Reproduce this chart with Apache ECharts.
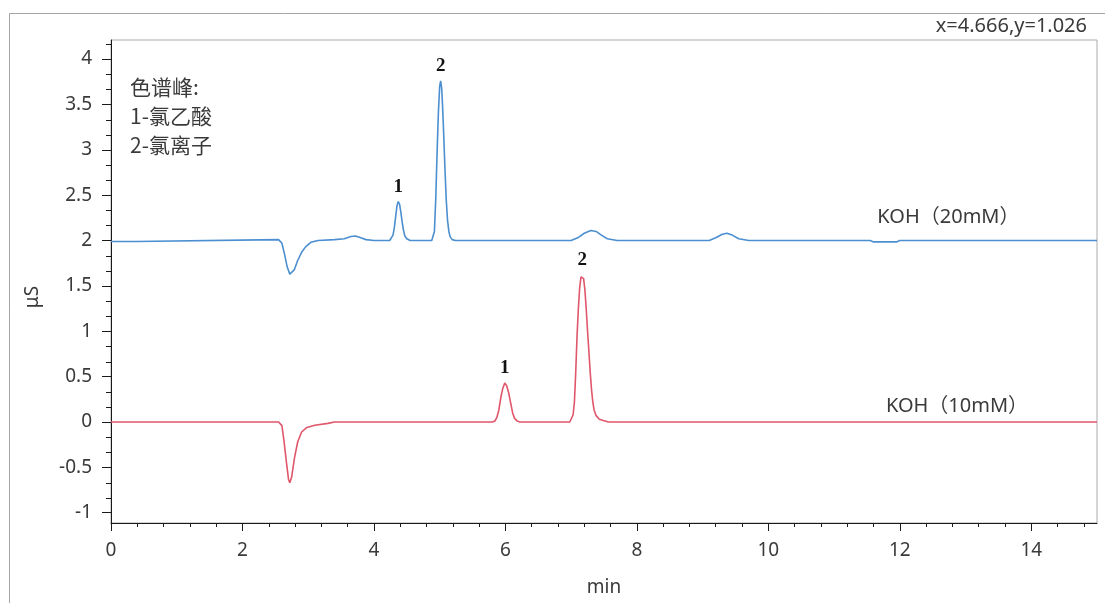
<!DOCTYPE html>
<html>
<head>
<meta charset="utf-8">
<script src="https://cdn.jsdelivr.net/npm/echarts@6/dist/echarts.min.js"></script>
<style>
  html, body { margin: 0; padding: 0; background: #ffffff; }
  #chart { width: 1105px; height: 603px; }
</style>
</head>
<body>
<div id="chart"></div>
<script>
// Axis tick labels
const xTickLabels = [0, 2, 4, 6, 8, 10, 12, 14];
const yTickLabels = [-1, -0.5, 0, 0.5, 1, 1.5, 2, 2.5, 3, 3.5, 4];

// Chromatogram, KOH 20 mM eluent (time in min, conductivity in μS)
const time20mM = [0, 0.38, 0.40, 2.55, 2.60, 2.64, 2.68, 2.72, 2.75, 2.79, 2.84, 2.90,
  2.96, 3.04, 3.15, 3.40, 3.55, 3.65, 3.72, 3.80, 3.88, 4.00,
  4.24, 4.27, 4.29, 4.31, 4.33, 4.35, 4.37, 4.39, 4.41, 4.43, 4.45, 4.47, 4.50, 4.55,
  4.88, 4.90, 4.92, 4.94, 4.96, 4.98, 5.00, 5.015, 5.03, 5.04, 5.06, 5.08, 5.10, 5.12, 5.14, 5.16, 5.19, 5.24,
  7.00, 7.10, 7.20, 7.30, 7.38, 7.46, 7.55, 7.70,
  9.10, 9.20, 9.30, 9.37, 9.45, 9.55, 9.70,
  11.55, 11.60, 11.95, 12.00, 15.00];
const signal20mM = [1.99, 1.99, 2.01, 2.01, 1.97, 1.85, 1.71, 1.63, 1.625, 1.68, 1.78, 1.87,
  1.93, 1.98, 2.00, 2.01, 2.02, 2.045, 2.05, 2.03, 2.01, 2.00,
  2.00, 2.02, 2.06, 2.14, 2.26, 2.38, 2.43, 2.40, 2.31, 2.20, 2.11, 2.05, 2.02, 2.00,
  2.00, 2.02, 2.10, 2.45, 2.95, 3.40, 3.70, 3.76, 3.68, 3.55, 3.20, 2.80, 2.45, 2.22, 2.10, 2.04, 2.01, 2.00,
  2.00, 2.03, 2.08, 2.11, 2.10, 2.06, 2.02, 2.00,
  2.00, 2.03, 2.07, 2.08, 2.06, 2.02, 2.00,
  2.00, 1.985, 1.985, 2.00, 2.00];

// Chromatogram, KOH 10 mM eluent
const time10mM = [0, 2.55, 2.60, 2.63, 2.67, 2.70, 2.72, 2.75, 2.79, 2.84, 2.90,
  2.98, 3.10, 3.30, 3.40,
  5.80, 5.84, 5.87, 5.90, 5.93, 5.96, 5.99, 6.02, 6.05, 6.08, 6.11, 6.14, 6.18, 6.22,
  6.98, 7.01, 7.03, 7.05, 7.07, 7.09, 7.11, 7.13, 7.15, 7.17, 7.19, 7.21, 7.23, 7.25,
  7.27, 7.29, 7.31, 7.33, 7.35, 7.38, 7.43, 7.50, 7.57,
  15.00];
const signal10mM = [0, 0, -0.04, -0.20, -0.45, -0.63, -0.67, -0.60, -0.40, -0.22, -0.11,
  -0.06, -0.035, -0.015, 0,
  0, 0.01, 0.05, 0.13, 0.27, 0.37, 0.43, 0.40, 0.32, 0.21, 0.10, 0.04, 0.01, 0,
  0, 0.02, 0.08, 0.22, 0.55, 0.95, 1.25, 1.48, 1.60, 1.62, 1.58, 1.45, 1.24, 1.00,
  0.78, 0.55, 0.36, 0.22, 0.13, 0.07, 0.03, 0.015, 0,
  0];

// Peak identification (1 = chloroacetic acid, 2 = chloride)
const peakNames = ['1', '2'];
const peakTimes20mM = [4.37, 5.015];
const peakTimes10mM = [5.99, 7.17];

const seriesNames = ['KOH（20mM）', 'KOH（10mM）'];
const legendLines = ['色谱峰:', '1-氯乙酸', '2-氯离子'];
const cursorReadout = 'x=4.666,y=1.026';

// Minor tick positions: x every 0.4 min, y every 1/6 μS
const xMinorTicks = [];
for (let k = 0; k * 0.4 <= 15; k++) if (k % 5 !== 0) xMinorTicks.push(+(k * 0.4).toFixed(3));
const yMinorTicks = [];
for (let k = 0; -1 + k / 6 <= 4.2; k++) if (k % 3 !== 0) yMinorTicks.push(+(-1 + k / 6).toFixed(4));

const zip = (xs, ys) => xs.map((x, i) => [x, ys[i]]);

// Locate the apex point of each named peak in a trace
function peakMarks(xs, ys, times) {
  return times.map((t, p) => {
    let best = -1;
    xs.forEach((x, i) => {
      if (Math.abs(x - t) <= 0.1 && (best < 0 || ys[i] > ys[best])) best = i;
    });
    return { name: peakNames[p], coord: [xs[best], ys[best]] };
  });
}

const FONT = "'Noto Sans', 'Noto Sans CJK SC', sans-serif";
const AXIS_COLOR = '#1a1a1a';
const TEXT_COLOR = '#3a3a3a';
const X_MIN = 0, X_MAX = 15, Y_MIN = -1.113, Y_MAX = 4.21;

const peakLabel = {
  show: true, position: 'top', distance: 5, formatter: '{b}',
  fontFamily: "'Liberation Serif', 'DejaVu Serif', serif",
  fontWeight: 'bold', fontSize: 19, color: '#111111'
};
const traceLabel = {
  show: true, position: 'inside', formatter: '{b}',
  fontFamily: FONT, fontSize: 20, fontWeight: 'normal', color: TEXT_COLOR
};

const chart = echarts.init(document.getElementById('chart'), null, { renderer: 'canvas' });

chart.setOption({
  animation: false,
  backgroundColor: '#ffffff',
  grid: {
    left: 111, right: 8, top: 40, bottom: 80,
    show: true, borderColor: '#ababab', borderWidth: 1, backgroundColor: 'transparent'
  },
  xAxis: [
    {
      type: 'value', min: X_MIN, max: X_MAX, position: 'bottom',
      name: 'min', nameLocation: 'middle', nameGap: 55,
      nameTextStyle: { fontFamily: FONT, fontSize: 19, color: TEXT_COLOR },
      axisLine: { show: true, onZero: false, lineStyle: { color: AXIS_COLOR, width: 1 } },
      axisTick: { show: true, customValues: xTickLabels, length: 8, lineStyle: { color: AXIS_COLOR } },
      axisLabel: { customValues: xTickLabels, fontFamily: FONT, fontSize: 19, color: TEXT_COLOR, margin: 18 },
      splitLine: { show: false }
    },
    {
      type: 'value', min: X_MIN, max: X_MAX, position: 'bottom',
      axisLine: { show: false, onZero: false },
      axisTick: { show: true, customValues: xMinorTicks, length: 4, lineStyle: { color: AXIS_COLOR } },
      axisLabel: { show: false },
      splitLine: { show: false }
    }
  ],
  yAxis: [
    {
      type: 'value', min: Y_MIN, max: Y_MAX, position: 'left',
      axisLine: { show: true, onZero: false, lineStyle: { color: AXIS_COLOR, width: 1 } },
      axisTick: { show: true, customValues: yTickLabels, length: 9, lineStyle: { color: AXIS_COLOR } },
      axisLabel: { customValues: yTickLabels, fontFamily: FONT, fontSize: 19, color: TEXT_COLOR, margin: 19 },
      splitLine: { show: false }
    }
  ],
  series: [
    {
      name: seriesNames[0], type: 'line', xAxisIndex: 0, yAxisIndex: 0,
      data: zip(time20mM, signal20mM),
      showSymbol: false, smooth: false,
      lineStyle: { color: '#4b8fd0', width: 1.6 },
      itemStyle: { color: '#4b8fd0' },
      markPoint: {
        symbol: 'circle', symbolSize: 0, silent: true,
        label: peakLabel,
        data: peakMarks(time20mM, signal20mM, peakTimes20mM).concat([{
          name: seriesNames[0], coord: [12.74, 2.257], label: traceLabel
        }])
      }
    },
    {
      name: seriesNames[1], type: 'line', xAxisIndex: 0, yAxisIndex: 0,
      data: zip(time10mM, signal10mM),
      showSymbol: false, smooth: false,
      lineStyle: { color: '#e0566a', width: 1.6 },
      itemStyle: { color: '#e0566a' },
      markPoint: {
        symbol: 'circle', symbolSize: 0, silent: true,
        label: peakLabel,
        data: peakMarks(time10mM, signal10mM, peakTimes10mM).concat([{
          name: seriesNames[1], coord: [12.87, 0.17], label: traceLabel
        }])
      }
    },
    {
      // Short minor ticks on the left edge of the y axis
      type: 'custom', xAxisIndex: 0, yAxisIndex: 0, silent: true, clip: false, z: 10,
      data: yMinorTicks.map(v => [X_MIN, v]),
      renderItem: function (params, api) {
        const p = api.coord([api.value(0), api.value(1)]);
        const y = Math.round(p[1]) + 0.5;
        return {
          type: 'line',
          shape: { x1: p[0] - 5, y1: y, x2: p[0], y2: y },
          style: { stroke: AXIS_COLOR, lineWidth: 1 }
        };
      }
    }
  ],
  graphic: [
    {
      type: 'rect', z: -10, silent: true,
      shape: { x: 9.5, y: 13.5, width: 1200, height: 700 },
      style: { fill: 'none', stroke: '#a5a5a5', lineWidth: 1 }
    },
    {
      type: 'text', silent: true, x: 1087, y: 26,
      style: { text: cursorReadout, align: 'right', verticalAlign: 'middle', font: "20px 'Noto Sans', sans-serif", fill: TEXT_COLOR }
    },
    {
      type: 'text', silent: true, x: 33, y: 297, rotation: Math.PI / 2,
      style: { text: 'μS', align: 'center', verticalAlign: 'middle', font: "19px 'Noto Sans', sans-serif", fill: TEXT_COLOR }
    },
    {
      type: 'text', silent: true, x: 130, y: 73,
      style: { text: legendLines.join('\n'), lineHeight: 29, align: 'left', verticalAlign: 'top', font: "21px 'Noto Sans CJK SC', sans-serif", fill: TEXT_COLOR }
    }
  ]
});
</script>
</body>
</html>
